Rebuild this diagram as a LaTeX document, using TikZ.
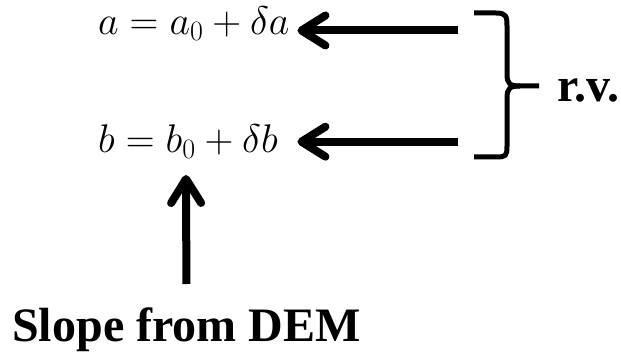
\RequirePackage{fix-cm}
\documentclass[tikz,border=0pt]{standalone}
\usepackage{fontspec}
\setmainfont{Liberation Serif}
\usetikzlibrary{arrows.meta}
\tikzset{
  eqn/.style={anchor=base west, inner sep=0pt, outer sep=0pt, font=\fontsize{40}{46}\selectfont},
  lbl/.style={inner sep=0pt, font=\fontsize{48}{56}\selectfont\bfseries},
  bigarrow/.style={line width=8pt, -{Straight Barb[length=24pt, width=30pt, line cap=round, line join=round]}},
  bracestyle/.style={line width=5pt, line cap=butt, line join=round}
}
\begin{document}
\begin{tikzpicture}[x=1pt, y=-1pt]
\useasboundingbox (0,0) rectangle (621,352);
% equations
\node[eqn] (aeq) at (98,35) {$a = a_0 + \delta a$};
\node[eqn] (beq) at (98,153) {$b = b_0 + \delta b$};
% labels
\node[lbl, anchor=base west] (rv) at (557,102) {r.v.};
\node[lbl, anchor=base] (slope) at (186.5,342) {Slope from DEM};
% coordinates
\coordinate (ta) at (458,30.5);
\coordinate (tb) at (458,141.7);
\coordinate (b0) at (186,175);
% horizontal arrows (both tips aligned just right of the longer equation)
\draw[bigarrow] (ta) -- ([xshift=8pt]aeq.east |- ta);
\draw[bigarrow] (tb) -- ([xshift=8pt]aeq.east |- tb);
% vertical arrow
\draw[bigarrow, shorten <=24pt] (slope.north) -- (b0);
% brace
\draw[bracestyle] (474,13) -- (496,13) .. controls (506,13) and (507,16) .. (507,26)
  -- (507,74) .. controls (507,84) and (510,86) .. (520,86) -- (539,86);
\draw[bracestyle] (520,86) .. controls (510,86) and (507,88) .. (507,98)
  -- (507,146) .. controls (507,156) and (506,157) .. (496,157) -- (474,157);
\end{tikzpicture}
\end{document}
